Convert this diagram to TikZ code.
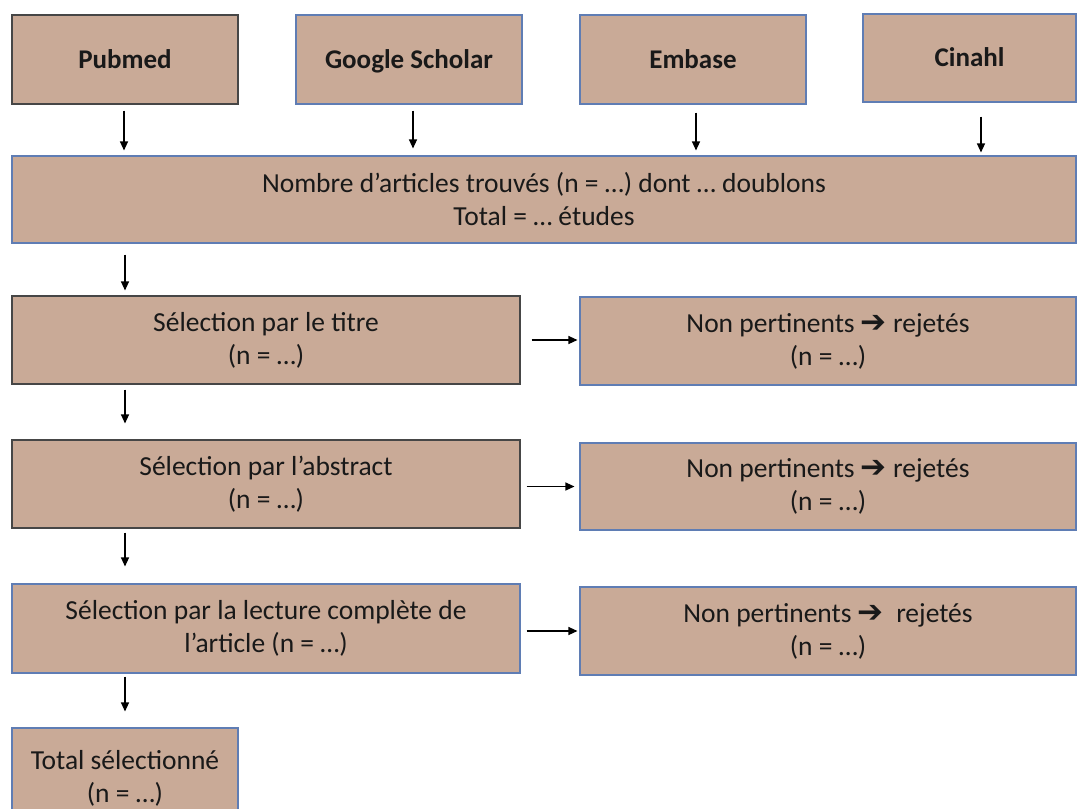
\documentclass[tikz,border=0pt]{standalone}
\usepackage{fontspec}
\setmainfont{Carlito}
\newfontfamily\symfont{DejaVu Sans}
\usetikzlibrary{arrows.meta}
\definecolor{boxfill}{RGB}{201,170,151}
\definecolor{blueedge}{RGB}{95,125,180}
\definecolor{grayedge}{RGB}{70,70,70}
\tikzset{
  box/.style={draw=blueedge, line width=1.1pt, fill=boxfill, align=center, inner sep=0pt,
    font=\fontsize{27.5}{33}\selectfont, text=black!90},
  graybox/.style={box, draw=grayedge},
  srcbox/.style={minimum width=226pt, minimum height=89pt, text height=17pt, text depth=0pt,
    font=\fontsize{27}{33}\selectfont\bfseries},
  arr/.style={line width=1.2pt, -{Triangle[length=9pt,width=8pt]}},
}
\newcommand{\rarr}{{\symfont\bfseries\fontsize{31}{26}\selectfont ➔}}
\begin{document}
\begin{tikzpicture}[x=1pt,y=-1pt]
\useasboundingbox (0,0) rectangle (1077,809);
\clip (0,0) rectangle (1077,809);
% top sources
\node[graybox, srcbox] (pub) at (125,59.5) {Pubmed};
\node[box, srcbox] (gs) at (409,59.5) {Google Scholar};
\node[box, srcbox] (emb) at (693,59.5) {Embase};
\node[box, srcbox, minimum width=213pt, minimum height=88pt] (cin) at (969.5,58) {Cinahl};
% merged
\node[box, minimum width=1064pt, minimum height=87pt] (tot) at (544,199.5) {Nombre d’articles trouvés (n = …) dont … doublons\\Total = … études};
% selection column
\node[graybox, minimum width=508pt, minimum height=88pt] (titre) at (266,340) {Sélection par le titre\\(n = …)};
\node[graybox, minimum width=508pt, minimum height=88pt] (abs) at (266,484) {Sélection par l’abstract\\(n = …)};
\node[box, minimum width=508pt, minimum height=89pt] (lec) at (266,628.5) {Sélection par la lecture complète de\\l’article (n = …)};
\node[box, minimum width=226pt, minimum height=100pt] (fin) at (125,778) {Total sélectionné\\(n = …)};
% rejected
\node[box, minimum width=496pt, minimum height=88pt] (np1) at (828,341) {Non pertinents \rarr\ rejetés\\(n = …)};
\node[box, minimum width=496pt, minimum height=87pt] (np2) at (828,486.5) {Non pertinents \rarr\ rejetés\\(n = …)};
\node[box, minimum width=496pt, minimum height=88pt] (np3) at (828,631) {Non pertinents \rarr\ \ rejetés\\(n = …)};
% arrows from sources
\draw[arr, shorten <=6pt, shorten >=5pt] ([xshift=-1pt]pub.south) -- ([xshift=-1pt]pub.south |- tot.north);
\draw[arr, shorten <=6pt, shorten >=7pt] ([xshift=4pt]gs.south) -- ([xshift=4pt]gs.south |- tot.north);
\draw[arr, shorten <=8pt, shorten >=5pt] ([xshift=3pt]emb.south) -- ([xshift=3pt]emb.south |- tot.north);
\draw[arr, shorten <=14pt, shorten >=3pt] ([xshift=11.5pt]cin.south) -- ([xshift=11.5pt]cin.south |- tot.north);
% vertical chain
\draw[arr, shorten <=11pt, shorten >=5pt] (tot.south -| pub.south) -- (titre.north -| pub.south);
\draw[arr, shorten <=5pt, shorten >=16pt] (titre.south -| pub.south) -- (abs.north -| pub.south);
\draw[arr, shorten <=4pt, shorten >=17pt] (abs.south -| pub.south) -- (lec.north -| pub.south);
\draw[arr, shorten <=3pt, shorten >=16pt] (lec.south -| pub.south) -- (fin.north);
% horizontal arrows
\draw[arr, shorten <=11pt, shorten >=2pt] (titre.east) -- (titre.east -| np1.west);
\draw[arr, shorten <=6pt, shorten >=5pt] (abs.east |- np2.west) -- (np2.west);
\draw[arr, shorten <=6pt, shorten >=2pt] (lec.east |- np3.west) -- (np3.west);
\end{tikzpicture}
\end{document}
